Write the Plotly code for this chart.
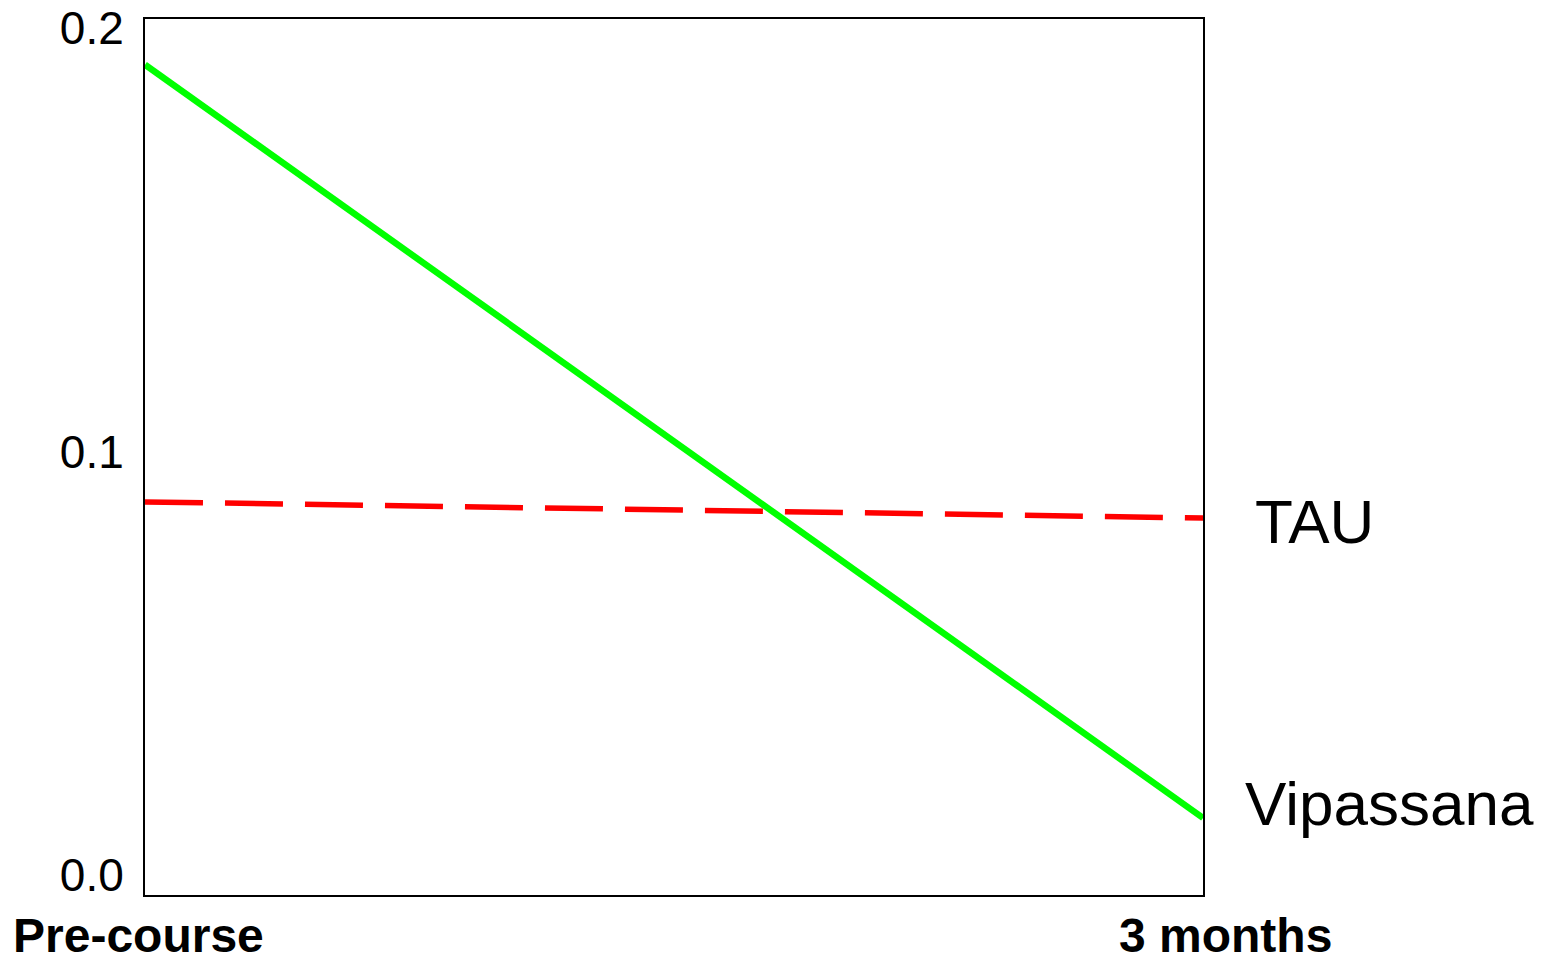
import plotly.graph_objects as go

timepoints = ["Pre-course", "3 months"]
x_pos = [0, 1]
vipassana = [0.1913, 0.0135]
tau = [0.0881, 0.0843]
y_ticks = [0.0, 0.1, 0.2]
y_tick_text = ["0.0", "0.1", "0.2"]

FONT = "Liberation Sans, Arial, sans-serif"

fig = go.Figure()
fig.add_trace(go.Scatter(x=x_pos, y=tau, mode="lines",
                         line=dict(color="#ff0000", width=5.5, dash="58px,22px"),
                         name="TAU", showlegend=False, hoverinfo="skip"))
fig.add_trace(go.Scatter(x=x_pos, y=vipassana, mode="lines",
                         line=dict(color="#00ff00", width=6.5),
                         name="Vipassana", showlegend=False, hoverinfo="skip"))

fig.add_annotation(x=1, y=tau[-1], xref="paper", yref="y", text="TAU",
                   showarrow=False, xanchor="left", yanchor="middle",
                   xshift=50, yshift=-3, font=dict(family=FONT, size=62, color="black"))
fig.add_annotation(x=1, y=vipassana[-1], xref="paper", yref="y", text="Vipassana",
                   showarrow=False, xanchor="left", yanchor="middle",
                   xshift=40, yshift=14, font=dict(family=FONT, size=62, color="black"))

# category labels under the x axis
label_shift = [-7, 22]
for xv, lab, sh in zip(x_pos, timepoints, label_shift):
    fig.add_annotation(x=xv, y=0, xref="x", yref="paper", text="<b>%s</b>" % lab,
                       showarrow=False, xanchor="center", yanchor="middle",
                       xshift=sh, yshift=-40,
                       font=dict(family=FONT, size=48, color="black"))

fig.update_xaxes(range=[0, 1], showticklabels=False,
                 showgrid=False, zeroline=False, showline=True, mirror=True,
                 linecolor="black", linewidth=2, ticks="", automargin=False)
fig.update_yaxes(range=[-0.0047, 0.2021], tickvals=y_ticks, ticktext=y_tick_text,
                 showgrid=False, zeroline=False, showline=True, mirror=True,
                 linecolor="black", linewidth=2, ticks="", ticklabelstandoff=10,
                 automargin=False, ticklabeloverflow="allow",
                 tickfont=dict(family=FONT, size=46, color="black"))

fig.update_layout(width=1545, height=949, autosize=False,
                  margin=dict(l=137, r=350, t=11, b=62),
                  plot_bgcolor="white", paper_bgcolor="white",
                  font=dict(family=FONT))

fig.write_html("out.html")
